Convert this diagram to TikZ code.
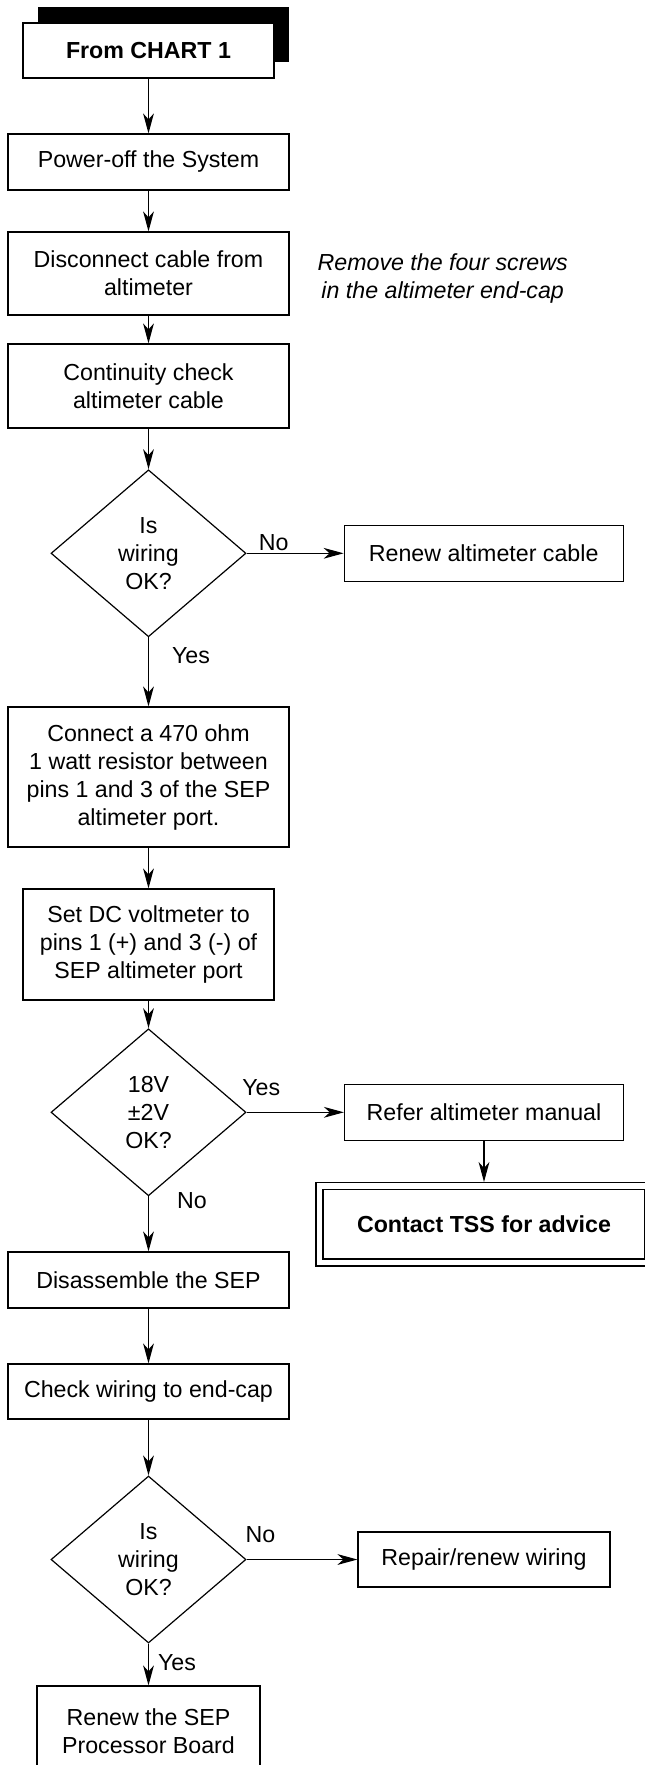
\documentclass[tikz,border=0pt]{standalone}
\usepackage{fontspec}
\setmainfont{Liberation Sans}
\usetikzlibrary{shapes.geometric,arrows.meta,shadows}

\begin{document}
\begin{tikzpicture}[x=0.5pt, y=-0.5pt, line width=0.6pt,
    >={Stealth[length=10pt, width=5.4pt, inset=3pt]},
    font=\fontsize{11.6}{14}\selectfont,
    procbox/.style={draw, rectangle, align=center, inner sep=0pt, fill=white},
    decision/.style={draw, diamond, align=center, inner sep=0pt,
        minimum width=97.5pt, minimum height=83.5pt},
    lbl/.style={inner sep=1pt}]
    % Page frame
    \useasboundingbox (0,0) rectangle (644,1765);

    % Main column
    \node[procbox, minimum width=125.5pt, minimum height=27.5pt,
        font=\fontsize{11.6}{14}\selectfont\bfseries,
        general shadow={fill=black, shadow xshift=7.25pt, shadow yshift=7.75pt}]
        (from) at (148.5,50.5) {From CHART 1};
    \node[procbox, minimum width=140.5pt, minimum height=28pt] (power) at (148.5,162) {Power-off the System};
    \node[procbox, minimum width=140.5pt, minimum height=41.5pt] (disc) at (148.5,273.5) {Disconnect cable from\\altimeter};
    \node[align=center, font=\fontsize{11.6}{14}\selectfont\itshape] (note) at (442.7,279) {Remove the four screws\\in the altimeter end-cap};
    \node[procbox, minimum width=140.5pt, minimum height=42pt] (cont) at (148.5,386) {Continuity check\\altimeter cable};
    \node[decision] (wire1) at (148.5,553.3) {Is\\wiring\\OK?};
    \node[procbox, minimum width=139.5pt, minimum height=28pt] (renewcab) at (483.7,553.3) {Renew altimeter cable};
    \node[procbox, minimum width=140.5pt, minimum height=70pt] (conn) at (148.5,777) {Connect a 470 ohm\\1 watt resistor between\\pins 1 and 3 of the SEP\\altimeter port.};
    \node[procbox, minimum width=125.5pt, minimum height=55.5pt] (setdc) at (148.5,944.5) {Set DC voltmeter to\\pins 1 (+) and 3 (-) of\\SEP altimeter port};
    \node[decision] (volt) at (148.5,1112.3) {18V\\±2V\\OK?};
    \node[procbox, minimum width=139.5pt, minimum height=28pt] (refer) at (484,1112.3) {Refer altimeter manual};
    \node[procbox, double, double distance=2.9pt, outer sep=1.8pt,
        minimum width=164.5pt, minimum height=38.4pt,
        font=\fontsize{11.6}{14}\selectfont\bfseries] (tss) at (484,1224) {Contact TSS for advice};
    \node[procbox, minimum width=140.5pt, minimum height=28pt] (disas) at (148.5,1280) {Disassemble the SEP};
    \node[procbox, minimum width=140.5pt, minimum height=27.5pt] (checkw) at (148.5,1391.5) {Check wiring to end-cap};
    \node[decision] (wire2) at (148.5,1559.5) {Is\\wiring\\OK?};
    \node[procbox, minimum width=126pt, minimum height=27.5pt] (repair) at (484,1559.5) {Repair/renew wiring};
    \node[procbox, minimum width=111.5pt, minimum height=45pt] (renewsep) at (148.5,1731) {Renew the SEP\\Processor Board};

    % Connectors
    \draw[->] (from) -- (power);
    \draw[->] (power) -- (disc);
    \draw[->] (disc) -- (cont);
    \draw[->] (cont) -- (wire1);
    \draw[->] (wire1) -- node[lbl, above, pos=0.28] {No} (renewcab);
    \draw[->] (wire1) -- node[lbl, right=10.5pt, pos=0.26] {Yes} (conn);
    \draw[->] (conn) -- (setdc);
    \draw[->] (setdc) -- (volt);
    \draw[->] (volt) -- node[lbl, above=7pt, pos=0.15] {Yes} (refer);
    \draw[->] (refer) -- (tss);
    \draw[->] (volt) -- node[lbl, right=13pt, pos=0.08] {No} (disas);
    \draw[->] (disas) -- (checkw);
    \draw[->] (checkw) -- (wire2);
    \draw[->] (wire2) -- node[lbl, above=7pt, pos=0.125] {No} (repair);
    \draw[->] (wire2) -- node[lbl, right=3.5pt, pos=0.445] {Yes} (renewsep);
\end{tikzpicture}
\end{document}
